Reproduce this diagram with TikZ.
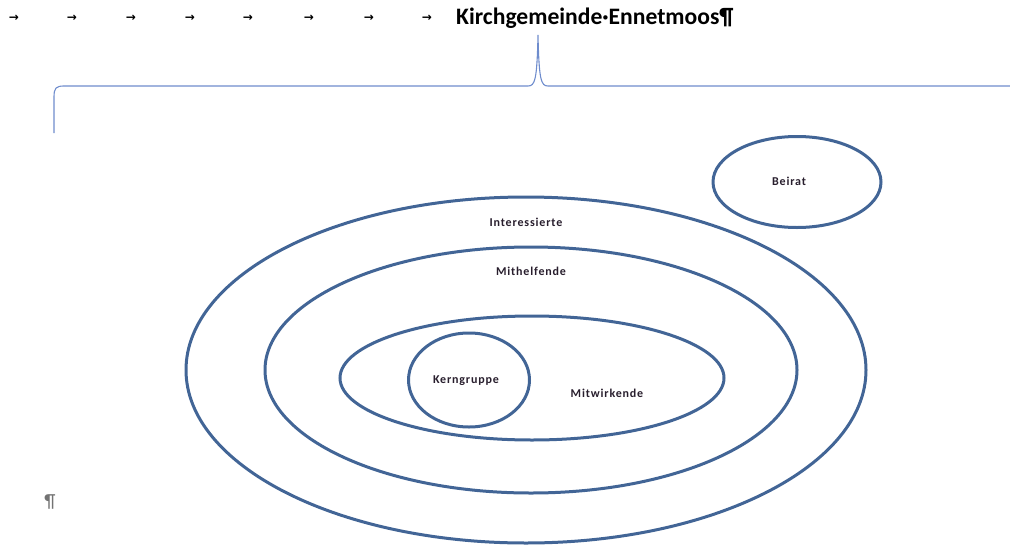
\documentclass[tikz,border=0pt]{standalone}
\usepackage{fontspec}
\setmainfont{Carlito}
\newfontfamily\symfont{DejaVu Sans}
\usetikzlibrary{shapes.geometric}
\definecolor{ringblue}{RGB}{66,101,150}
\definecolor{braceblue}{RGB}{110,140,205}
\definecolor{labeltext}{RGB}{40,30,45}
\tikzset{
  ring/.style={draw=ringblue, line width=3pt, ellipse, inner sep=0pt, outer sep=0pt},
  lbl/.style={font=\bfseries\fontsize{12}{14}\selectfont\addfontfeatures{LetterSpace=7}, text=labeltext, inner sep=0pt},
  tabarrow/.style={font=\symfont\bfseries\fontsize{12}{13}\selectfont, inner sep=0pt},
}
\begin{document}
\begin{tikzpicture}[x=1pt,y=-1pt]
\useasboundingbox (0,0) rectangle (1010,544);
% header
\foreach \i/\xx in {1/14,2/72,3/131,4/190,5/248,6/309,7/369,8/427}
  \node[tabarrow] (tab\i) at (\xx,18) {→};
\node[anchor=west, font=\bfseries\fontsize{23.6}{26}\selectfont, inner sep=0pt] (title) at (456,18) {Kirchgemeinde·Ennetmoos¶};
% brace
\coordinate (bl) at (54,133);
\coordinate (br) at (1010,86);
\coordinate (bt) at (538,35);
\draw[braceblue, line width=1.1pt] (bl) -- (54,97) .. controls (54,88) and (56,86) .. (64,86)
  -- (528,86) .. controls (535,86) and (537,80) .. (bt)
  .. controls (539,80) and (541,86) .. (548,86) -- (br);
% ellipses
\node[ring, minimum width=680pt, minimum height=346pt] (inter) at (526,370) {};
\node[ring, minimum width=532pt, minimum height=246pt] (mith) at (531,370) {};
\node[ring, minimum width=384pt, minimum height=124pt] (mitw) at (532,378) {};
\node[ring, minimum width=121pt, minimum height=94pt] (kern) at (469,380) {};
\node[ring, minimum width=168pt, minimum height=91pt] (beirat) at (797,182) {};
% labels
\node[lbl] (linter) at (526,222) {Interessierte};
\node[lbl] (lmith) at (531,271) {Mithelfende};
\node[lbl] (lkern) at (466,381) {Kerngruppe};
\node[lbl] (lmitw) at (607,393) {Mitwirkende};
\node[lbl] (lbeirat) at (789,181) {Beirat};
% pilcrow
\node[font=\fontsize{19}{21}\selectfont, text=black!55, inner sep=0pt] (pil) at (50,502) {¶};
\end{tikzpicture}
\end{document}
